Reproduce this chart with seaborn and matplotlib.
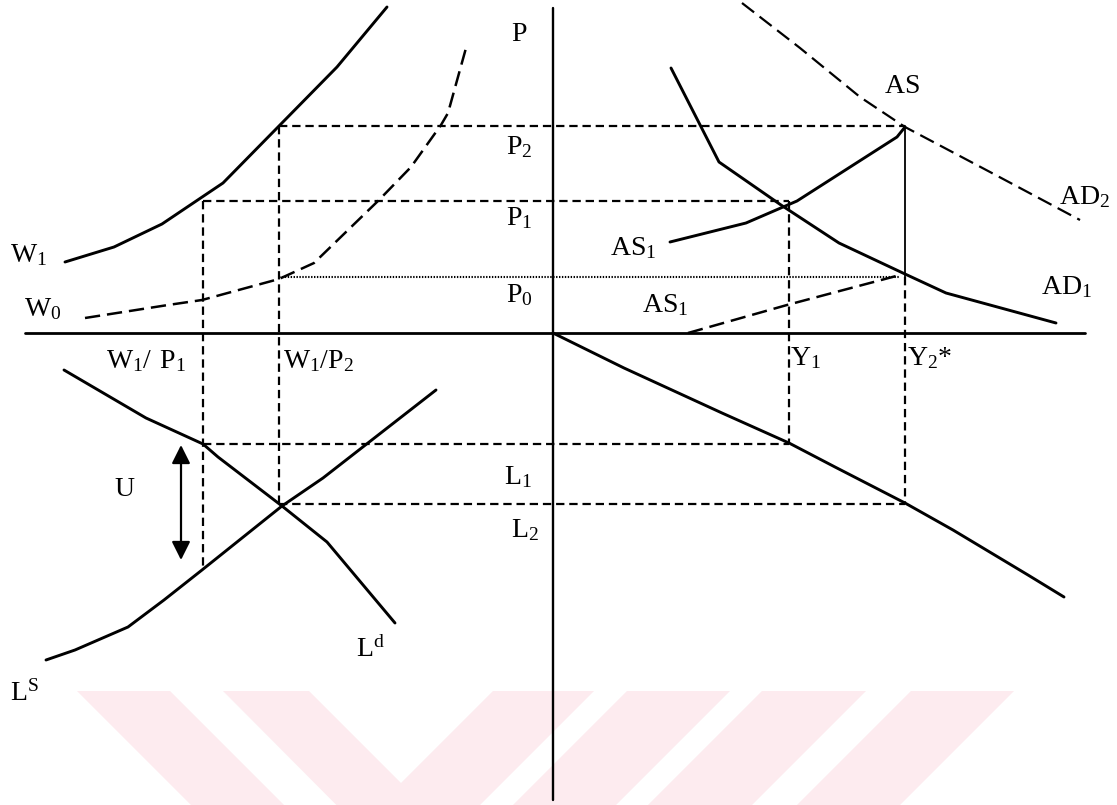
import matplotlib
matplotlib.use('Agg')
import matplotlib.pyplot as plt
import seaborn as sns

# curve points, origin = where the two axes cross (x right, y up)
w1_x = [-488, -439, -391, -330, -274, -216, -166]
w1_y = [71, 86, 109, 150, 207, 266, 326]

w0_x = [-468, -385, -351, -274, -239, -174, -142, -112, -105, -87]
w0_y = [15, 28, 33, 54, 70, 133, 166, 208, 220, 285]

ld_x = [-489, -407, -350, -335, -271, -226, -158]
ld_y = [-37, -85, -111, -124, -173, -209, -290]

ls_x = [-507, -478, -425, -389, -351, -271, -230, -117]
ls_y = [-327, -317, -294, -267, -237, -173, -145, -57]

ad1_x = [118, 166, 228, 286, 352, 393, 503]
ad1_y = [265, 171, 128, 90, 59, 40, 10]

ad2_x = [189, 247, 307, 352, 437, 527]
ad2_y = [330, 285, 236, 206, 161, 113]

as1_x = [117, 193, 244, 344, 352]
as1_y = [91, 110, 132, 196, 206]

as0_x = [135, 234, 347]
as0_y = [0, 28, 58]

prod_x = [0, 71, 169, 236, 282, 352, 400, 475, 511]
prod_y = [0, -35, -80, -110, -134, -170, -197, -242, -264]

# price / employment levels and real-wage / output positions
p2, p1, p0 = 207, 132, 56
l1, l2 = -111, -171
w1p1, w1p2 = -350, -274
y1, y2 = 236, 352
ls_low = -237

sns.set_theme(style='white')
plt.rcParams['mathtext.fontset'] = 'custom'
plt.rcParams['mathtext.rm'] = 'Liberation Serif'
plt.rcParams['font.family'] = ['Liberation Serif', 'DejaVu Serif']
plt.rcParams['lines.scale_dashes'] = False

fig = plt.figure(figsize=(11.17, 8.05), dpi=100)
ax = fig.add_axes([0, 0, 1, 1])
ax.set_xlim(-553, 564)
ax.set_ylim(-472, 333)
ax.axis('off')

# pale watermark stripes
pink = '#fdebef'
stripes = [
    ([-476, -383, -261, -354], [-358, -358, -480, -480]),
    ([-330, -244, -152, -60, 41, -145], [-358, -358, -450, -358, -358, -544]),
    ([74, 177, 55, -48], [-358, -358, -480, -480]),
    ([209, 313, 191, 87], [-358, -358, -480, -480]),
    ([358, 461, 339, 236], [-358, -358, -480, -480]),
]
for sx, sy in stripes:
    ax.fill(sx, sy, color=pink, lw=0, zorder=0)

long_dash = (0, (11, 5))
short_dash = (0, (6, 3.5))
dots = (0, (1, 1.1))


def draw(x, y, ls='-', lw=2.1):
    sns.lineplot(x=x, y=y, sort=False, estimator=None, color='black',
                 linewidth=lw, linestyle=ls, ax=ax, legend=False)


# axes
draw([-528, 532], [0, 0], lw=2.0)
draw([0, 0], [325, -467], lw=1.7)

# curves
draw(w1_x, w1_y)
draw(w0_x, w0_y, long_dash, 1.8)
draw(ld_x, ld_y)
draw(ls_x, ls_y)
draw(ad1_x, ad1_y)
draw(ad2_x, ad2_y, long_dash, 1.6)
draw(as1_x, as1_y)
draw(as0_x, as0_y, long_dash, 1.8)
draw(prod_x, prod_y)

# guide lines
draw([w1p2, y2], [p2, p2], short_dash, 1.6)
draw([w1p1, y1], [p1, p1], short_dash, 1.6)
draw([w1p2, y2 - 5], [p0, p0], dots, 1.5)
draw([w1p1, w1p1], [p1, ls_low], short_dash, 1.6)
draw([w1p2, w1p2], [p2, l2], short_dash, 1.6)
draw([y1, y1], [p1, l1], short_dash, 1.6)
draw([y2, y2], [p2, p0], '-', 1.3)
draw([y2, y2], [p0, l2], short_dash, 1.6)
draw([w1p1, y1], [l1, l1], short_dash, 1.6)
draw([w1p2, y2], [l2, l2], short_dash, 1.6)

# unemployment arrow
ax.annotate('', xy=(-372, -227), xytext=(-372, -112),
            arrowprops=dict(arrowstyle='<|-|>', color='black', lw=1.6,
                            mutation_scale=28, shrinkA=0, shrinkB=0))

labels = [
    (-34, 298, r'$\mathrm{P}$'),
    (-34, 186, r'$\mathrm{P_2}$'),
    (-34, 115, r'$\mathrm{P_1}$'),
    (-34, 38, r'$\mathrm{P_0}$'),
    (-524, 78, r'$\mathrm{W_1}$'),
    (-510, 24, r'$\mathrm{W_0}$'),
    (-407, -28, r'$\mathrm{W_1/\ P_1}$'),
    (-235, -28, r'$\mathrm{W_1/P_2}$'),
    (-428, -157, r'$\mathrm{U}$'),
    (-183, -317, r'$\mathrm{L^d}$'),
    (-529, -360, r'$\mathrm{L^S}$'),
    (-35, -144, r'$\mathrm{L_1}$'),
    (-28, -197, r'$\mathrm{L_2}$'),
    (252, -25, r'$\mathrm{Y_1}$'),
    (377, -25, r'$\mathrm{Y_2}$*'),
    (349, 246, r'$\mathrm{AS}$'),
    (532, 136, r'$\mathrm{AD_2}$'),
    (514, 46, r'$\mathrm{AD_1}$'),
    (80, 85, r'$\mathrm{AS_1}$'),
    (112, 28, r'$\mathrm{AS_1}$'),
]
for lx, ly, txt in labels:
    ax.text(lx, ly, txt, fontsize=20, ha='center', va='center', color='black')

fig.savefig('out.png', dpi=100)
